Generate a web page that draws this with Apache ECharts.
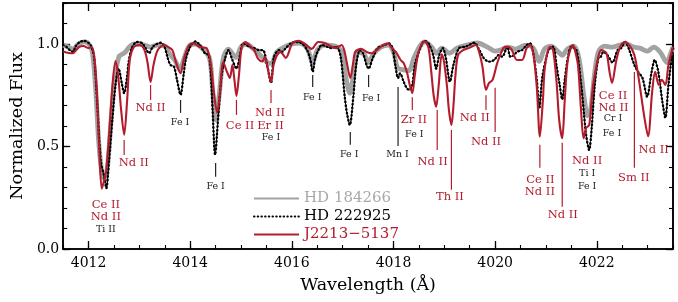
<!DOCTYPE html>
<html><head><meta charset="utf-8">
<script src="https://cdn.jsdelivr.net/npm/echarts@6/dist/echarts.min.js"></script>
<style>html,body{margin:0;padding:0;background:#fff}#c{width:678px;height:302px}</style>
</head><body><div id="c"></div>
<script>
// ---- DATA ----
const hd184266 = [[4011.50,0.995],[4011.60,0.985],[4011.69,0.975],[4011.80,1.0],[4011.92,1.01],[4012.02,0.995],[4012.08,0.95],[4012.14,0.78],[4012.20,0.52],[4012.27,0.36],[4012.32,0.34],[4012.38,0.42],[4012.44,0.62],[4012.52,0.84],[4012.60,0.94],[4012.66,0.95],[4012.72,0.96],[4012.80,0.985],[4012.90,1.0],[4013.10,0.995],[4013.22,0.985],[4013.35,0.995],[4013.50,0.99],[4013.60,0.95],[4013.70,0.92],[4013.80,0.875],[4013.88,0.93],[4013.98,0.99],[4014.10,1.0],[4014.25,0.975],[4014.38,0.93],[4014.44,0.78],[4014.50,0.63],[4014.57,0.75],[4014.65,0.93],[4014.75,0.975],[4014.90,0.935],[4015.00,0.985],[4015.10,1.0],[4015.25,0.975],[4015.40,0.94],[4015.52,0.91],[4015.60,0.905],[4015.70,0.96],[4015.85,0.985],[4016.00,1.0],[4016.15,1.005],[4016.30,0.98],[4016.41,0.91],[4016.50,0.97],[4016.65,0.995],[4016.85,0.99],[4016.98,0.96],[4017.06,0.84],[4017.14,0.76],[4017.22,0.86],[4017.30,0.96],[4017.42,0.95],[4017.51,0.91],[4017.60,0.95],[4017.75,0.985],[4017.90,0.995],[4018.00,0.96],[4018.08,0.885],[4018.18,0.875],[4018.30,0.87],[4018.40,0.93],[4018.52,0.99],[4018.62,1.01],[4018.75,0.985],[4018.85,0.955],[4018.95,0.98],[4019.10,0.955],[4019.25,0.98],[4019.45,0.995],[4019.65,1.005],[4019.85,0.985],[4020.00,0.965],[4020.10,0.97],[4020.25,0.985],[4020.40,0.975],[4020.60,0.995],[4020.75,0.98],[4020.87,0.915],[4020.97,0.975],[4021.10,0.99],[4021.25,0.96],[4021.32,0.945],[4021.42,0.975],[4021.55,0.99],[4021.65,0.93],[4021.75,0.74],[4021.82,0.65],[4021.88,0.68],[4021.95,0.84],[4022.03,0.96],[4022.15,0.99],[4022.30,0.985],[4022.45,0.995],[4022.58,1.0],[4022.72,0.985],[4022.85,0.98],[4023.00,0.965],[4023.12,0.985],[4023.25,0.96],[4023.38,0.91],[4023.45,0.95],[4023.50,0.985]];

const hd222925 = [[4011.50,0.995],[4011.57,0.985],[4011.63,0.97],[4011.69,0.962],[4011.75,0.99],[4011.83,1.01],[4011.92,1.015],[4012.00,1.005],[4012.06,0.985],[4012.11,0.93],[4012.17,0.71],[4012.24,0.427],[4012.30,0.36],[4012.35,0.297],[4012.40,0.427],[4012.47,0.64],[4012.53,0.80],[4012.59,0.88],[4012.66,0.80],[4012.70,0.76],[4012.75,0.825],[4012.79,0.914],[4012.85,0.98],[4012.95,1.01],[4013.05,1.005],[4013.12,0.98],[4013.19,0.955],[4013.26,0.985],[4013.34,1.0],[4013.42,1.006],[4013.49,0.99],[4013.55,0.938],[4013.61,0.898],[4013.68,0.89],[4013.74,0.825],[4013.81,0.752],[4013.87,0.85],[4013.92,0.932],[4014.00,0.987],[4014.10,1.012],[4014.19,0.995],[4014.29,0.955],[4014.36,0.946],[4014.40,0.883],[4014.44,0.68],[4014.49,0.46],[4014.55,0.64],[4014.62,0.85],[4014.69,0.932],[4014.75,0.97],[4014.83,0.922],[4014.91,0.88],[4014.98,0.946],[4015.04,1.003],[4015.16,0.987],[4015.26,0.98],[4015.36,0.97],[4015.43,0.97],[4015.52,0.89],[4015.59,0.81],[4015.65,0.938],[4015.75,0.97],[4015.81,0.962],[4015.88,0.98],[4015.98,1.003],[4016.07,1.01],[4016.20,1.003],[4016.30,0.97],[4016.36,0.93],[4016.41,0.865],[4016.46,0.932],[4016.52,0.97],[4016.59,0.995],[4016.69,0.987],[4016.78,0.98],[4016.88,0.987],[4016.96,0.938],[4017.04,0.743],[4017.09,0.654],[4017.14,0.605],[4017.21,0.743],[4017.27,0.906],[4017.34,0.97],[4017.40,0.955],[4017.47,0.898],[4017.51,0.88],[4017.59,0.93],[4017.69,0.98],[4017.82,0.995],[4017.91,1.003],[4017.98,0.98],[4018.04,0.89],[4018.09,0.834],[4018.13,0.857],[4018.20,0.816],[4018.26,0.785],[4018.31,0.776],[4018.37,0.80],[4018.42,0.898],[4018.53,0.98],[4018.61,1.015],[4018.69,1.003],[4018.78,0.946],[4018.84,0.88],[4018.90,0.946],[4018.97,0.98],[4019.03,0.932],[4019.11,0.816],[4019.18,0.898],[4019.29,0.98],[4019.42,0.987],[4019.59,1.006],[4019.69,0.97],[4019.78,0.93],[4019.88,0.914],[4019.98,0.922],[4020.07,0.946],[4020.14,0.938],[4020.24,0.987],[4020.30,0.938],[4020.37,0.946],[4020.43,0.962],[4020.53,0.97],[4020.62,0.995],[4020.69,1.003],[4020.75,0.955],[4020.82,0.825],[4020.87,0.687],[4020.93,0.84],[4021.05,0.97],[4021.14,0.987],[4021.21,0.89],[4021.27,0.80],[4021.32,0.73],[4021.37,0.825],[4021.43,0.932],[4021.50,0.987],[4021.60,0.97],[4021.69,0.81],[4021.75,0.654],[4021.79,0.556],[4021.85,0.483],[4021.90,0.59],[4021.96,0.80],[4022.03,0.93],[4022.08,0.938],[4022.13,0.962],[4022.21,0.946],[4022.31,0.91],[4022.41,0.97],[4022.48,0.98],[4022.56,1.01],[4022.64,0.97],[4022.74,0.898],[4022.81,0.865],[4022.90,0.834],[4022.99,0.743],[4023.08,0.865],[4023.14,0.922],[4023.21,0.865],[4023.29,0.72],[4023.35,0.64],[4023.41,0.80],[4023.50,0.987]];

const j2213 = [[4011.50,0.963],[4011.61,0.956],[4011.69,0.955],[4011.81,0.985],[4011.90,0.99],[4012.00,0.98],[4012.06,0.985],[4012.12,0.92],[4012.17,0.73],[4012.21,0.485],[4012.26,0.294],[4012.31,0.34],[4012.35,0.386],[4012.41,0.58],[4012.47,0.80],[4012.53,0.917],[4012.58,0.85],[4012.64,0.68],[4012.70,0.557],[4012.76,0.73],[4012.81,0.92],[4012.89,0.985],[4013.01,0.995],[4013.10,0.97],[4013.16,0.91],[4013.22,0.815],[4013.28,0.90],[4013.36,0.97],[4013.49,0.995],[4013.57,0.985],[4013.65,0.97],[4013.72,0.91],[4013.81,0.857],[4013.88,0.932],[4013.98,0.995],[4014.07,1.003],[4014.19,0.985],[4014.32,0.98],[4014.40,0.91],[4014.46,0.775],[4014.53,0.664],[4014.58,0.75],[4014.65,0.912],[4014.71,0.873],[4014.78,0.834],[4014.83,0.898],[4014.87,0.825],[4014.91,0.747],[4014.96,0.85],[4015.01,0.98],[4015.08,1.01],[4015.18,0.99],[4015.26,0.97],[4015.33,0.93],[4015.42,0.915],[4015.47,0.937],[4015.53,0.873],[4015.59,0.815],[4015.64,0.898],[4015.70,0.942],[4015.78,0.96],[4015.88,0.932],[4016.01,1.003],[4016.14,1.016],[4016.26,1.0],[4016.39,0.976],[4016.52,1.01],[4016.65,1.005],[4016.78,0.988],[4016.86,0.98],[4016.98,0.995],[4017.04,0.96],[4017.09,0.898],[4017.15,0.834],[4017.20,0.898],[4017.25,0.963],[4017.36,0.976],[4017.48,0.96],[4017.57,0.955],[4017.67,0.97],[4017.77,0.99],[4017.88,1.003],[4017.97,0.98],[4018.05,0.96],[4018.14,0.922],[4018.20,0.907],[4018.27,0.857],[4018.32,0.80],[4018.37,0.76],[4018.42,0.85],[4018.48,0.946],[4018.56,1.003],[4018.62,1.012],[4018.69,0.98],[4018.74,0.873],[4018.79,0.75],[4018.84,0.694],[4018.89,0.80],[4018.95,0.95],[4018.99,0.92],[4019.05,0.80],[4019.09,0.68],[4019.14,0.605],[4019.18,0.70],[4019.22,0.85],[4019.27,0.946],[4019.37,0.97],[4019.48,0.98],[4019.62,0.995],[4019.69,0.956],[4019.75,0.89],[4019.82,0.776],[4019.88,0.81],[4019.95,0.825],[4020.04,0.906],[4020.14,0.97],[4020.20,0.986],[4020.27,0.985],[4020.33,0.97],[4020.43,0.922],[4020.53,0.922],[4020.62,0.98],[4020.69,0.995],[4020.75,0.956],[4020.82,0.79],[4020.88,0.548],[4020.94,0.727],[4020.98,0.89],[4021.08,0.986],[4021.14,0.97],[4021.21,0.81],[4021.26,0.63],[4021.32,0.54],[4021.37,0.727],[4021.43,0.922],[4021.53,0.995],[4021.57,0.97],[4021.63,0.898],[4021.69,0.68],[4021.74,0.54],[4021.79,0.59],[4021.85,0.605],[4021.89,0.70],[4021.93,0.80],[4022.03,0.938],[4022.09,0.97],[4022.19,0.955],[4022.25,0.865],[4022.30,0.81],[4022.38,0.914],[4022.45,0.98],[4022.54,1.01],[4022.64,0.995],[4022.74,0.946],[4022.83,0.824],[4022.93,0.653],[4023.01,0.55],[4023.09,0.768],[4023.15,0.864],[4023.22,0.80],[4023.28,0.825],[4023.35,0.80],[4023.41,0.898],[4023.50,0.987]];

const seriesNames = ['HD 184266', 'HD 222925', 'J2213\u22125137'];
const xMajorTicks = [4012, 4014, 4016, 4018, 4020, 4022];
const yMajorTicks = [0, 0.5, 1.0];

// line identification markers: [wavelength, top flux, bottom flux], kind r=red (n-capture), k=black
const idTicks = [[4012.70,0.532,0.459],[4013.22,0.80,0.727],[4013.81,0.727,0.664],[4014.50,0.42,0.352],[4014.91,0.727,0.654],[4015.59,0.776,0.712],[4016.41,0.849,0.79],[4017.15,0.571,0.508],[4017.51,0.849,0.79],[4018.09,0.79,0.503],[4018.37,0.74,0.678],[4018.86,0.678,0.483],[4019.14,0.581,0.289],[4019.82,0.75,0.678],[4020.00,0.786,0.571],[4020.88,0.508,0.396],[4021.32,0.518,0.206],[4022.74,0.864,0.396]];
const idTickKind = ['r','r','k','k','r','r','k','k','k','k','r','r','r','r','r','r','r','r'];

// labels: text, wavelength, flux, kind
const idLabelText = ['Ce II','Nd II','Ti II','Nd II','Nd II','Fe I','Fe I','Ce II','Nd II','Er II','Fe I','Fe I','Fe I','Fe I','Mn I','Zr II','Fe I','Nd II','Th II','Nd II','Nd II','Ce II','Nd II','Nd II','Nd II','Ti I','Fe I','Ce II','Nd II','Cr I','Fe I','Sm II','Nd II'];
const idLabelWave = [4012.34,4012.34,4012.34,4012.89,4013.22,4013.80,4014.50,4014.98,4015.57,4015.58,4015.59,4016.40,4017.13,4017.56,4018.08,4018.40,4018.41,4018.77,4019.11,4019.60,4019.82,4020.89,4020.88,4021.33,4021.81,4021.81,4021.81,4022.32,4022.33,4022.32,4022.30,4022.73,4023.12];
const idLabelFlux = [0.215,0.157,0.094,0.42,0.688,0.615,0.303,0.60,0.663,0.60,0.542,0.737,0.46,0.735,0.46,0.63,0.56,0.422,0.255,0.638,0.524,0.338,0.276,0.167,0.427,0.367,0.305,0.747,0.687,0.635,0.565,0.346,0.484];
const idLabelKind = ['r','r','k','r','r','k','k','r','r','r','k','k','k','k','k','r','k','r','r','r','r','r','r','r','r','k','k','r','r','k','k','r','r'];

// ---- STYLE ----
const RED = '#b31c2d', GRAY = '#a3a3a3', BLACK = '#000';
const FONT = 'DejaVu Serif';
const X0 = 4011.5, X1 = 4023.5, Y0 = 0, Y1 = 1.2;

const chart = echarts.init(document.getElementById('c'), null, {renderer: 'canvas'});

function xAx(pos, major, labels) {
  return {
    type: 'value', position: pos, min: X0, max: X1, gridIndex: 0,
    interval: major ? undefined : 0.5,
    axisLine: {show: true, onZero: false, lineStyle: {color: BLACK, width: 1.6}},
    axisTick: major ? {inside: true, length: 8, customValues: xMajorTicks, lineStyle: {color: BLACK, width: 1.3}}
                    : {inside: true, length: 4, lineStyle: {color: BLACK, width: 1.1}},
    axisLabel: labels ? {show: true, customValues: xMajorTicks, formatter: v => String(Math.round(v)), fontFamily: FONT, fontSize: 14, color: BLACK, margin: 7}
                      : {show: false},
    splitLine: {show: false},
    name: labels ? 'Wavelength (\u00c5)' : '',
    nameLocation: 'middle', nameGap: 27,
    nameTextStyle: {fontFamily: FONT, fontSize: 17.5, color: BLACK}
  };
}
function yAx(pos, major, labels) {
  return {
    type: 'value', position: pos, min: Y0, max: Y1, gridIndex: 0,
    interval: major ? undefined : 0.1,
    axisLine: {show: true, onZero: false, lineStyle: {color: BLACK, width: 1.6}},
    axisTick: major ? {inside: true, length: 7, customValues: yMajorTicks, lineStyle: {color: BLACK, width: 1.3}}
                    : {inside: true, length: 4, lineStyle: {color: BLACK, width: 1.1}},
    axisLabel: labels ? {show: true, customValues: yMajorTicks, formatter: v => Number(v).toFixed(1), fontFamily: FONT, fontSize: 14, color: BLACK, margin: 4}
                      : {show: false},
    splitLine: {show: false},
    name: labels ? 'Normalized Flux' : '',
    nameLocation: 'middle', nameGap: 34,
    nameTextStyle: {fontFamily: FONT, fontSize: 17.5, color: BLACK}
  };
}

const hiddenSymbol = {color: 'rgba(0,0,0,0)', borderWidth: 0, opacity: 0};

const option = {
  animation: false,
  backgroundColor: '#fff',
  grid: {left: 54, right: 5, top: 3, bottom: 53, containLabel: false},
  xAxis: [xAx('bottom', false, false), xAx('bottom', true, true), xAx('top', false, false), xAx('top', true, false)],
  yAxis: [yAx('left', false, false), yAx('left', true, true), yAx('right', false, false), yAx('right', true, false)],
  legend: {
    orient: 'vertical', left: 253, top: 191, itemWidth: 45, itemHeight: 12, itemGap: 3, padding: 0,
    selectedMode: false,
    textStyle: {fontFamily: FONT, fontSize: 15},
    data: [
      {name: seriesNames[0], textStyle: {color: '#a8a8a8'}, itemStyle: hiddenSymbol},
      {name: seriesNames[1], textStyle: {color: BLACK}, itemStyle: hiddenSymbol},
      {name: seriesNames[2], textStyle: {color: RED}, itemStyle: hiddenSymbol}
    ]
  },
  series: [
    {name: seriesNames[0], type: 'line', data: hd184266, smooth: 0.3, symbol: 'none', z: 2,
     lineStyle: {color: GRAY, width: 4.8}, itemStyle: {color: GRAY}},
    {name: 'hd222925-line', type: 'line', data: hd222925, smooth: 0.3, symbol: 'none', z: 3,
     lineStyle: {color: BLACK, width: 1}, itemStyle: {color: BLACK}},
    {name: seriesNames[1], type: 'line', data: hd222925, smooth: 0.3, symbol: 'none', z: 4,
     lineStyle: {color: BLACK, width: 2.4, type: [0.5, 3.2], cap: 'round'}, itemStyle: {color: BLACK}},
    {name: seriesNames[2], type: 'line', data: j2213, smooth: 0.3, symbol: 'none', z: 5,
     lineStyle: {color: RED, width: 2.1}, itemStyle: {color: RED}},
    {type: 'custom', name: 'idticks', z: 6, clip: false, silent: true,
     data: idTicks,
     renderItem: (params, api) => {
       const p1 = api.coord([api.value(0), api.value(1)]);
       const p2 = api.coord([api.value(0), api.value(2)]);
       const k = idTickKind[params.dataIndex];
       return {type: 'line', shape: {x1: p1[0], y1: p1[1], x2: p2[0], y2: p2[1]},
               style: {stroke: k === 'r' ? RED : '#222', lineWidth: 1.2}};
     }},
    {type: 'custom', name: 'idlabels', z: 7, clip: false, silent: true,
     data: idLabelWave.map((w, i) => [w, idLabelFlux[i]]),
     renderItem: (params, api) => {
       const i = params.dataIndex;
       const p = api.coord([api.value(0), api.value(1)]);
       const red = idLabelKind[i] === 'r';
       return {type: 'text', x: p[0], y: p[1],
               style: {text: idLabelText[i], fill: red ? RED : '#222', fontFamily: FONT,
                       fontSize: red ? 11.5 : 9.5, align: 'center', verticalAlign: 'middle'}};
     }}
  ]
};
chart.setOption(option);
</script>
</body></html>
